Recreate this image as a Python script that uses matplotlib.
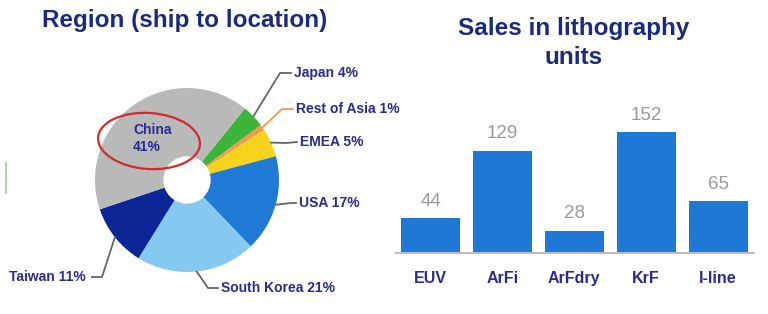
import numpy as np
import matplotlib.pyplot as plt
from matplotlib.patches import Ellipse

# pie data (ship to location)
regions = ['Japan', 'Rest of Asia', 'EMEA', 'USA', 'South Korea', 'Taiwan', 'China']
shares = [4, 1, 5, 17, 21, 11, 41]
pie_colors = ['#3db43a', '#f4994a', '#f8d31e', '#1f7ad6', '#85c9f0', '#0b2694', '#b9b9b9']

# bar data (litho units)
tools = ['EUV', 'ArFi', 'ArFdry', 'KrF', 'I-line']
units = [44, 129, 28, 152, 65]

W, H = 768, 314
navy = '#1b2a80'
lblcol = '#2a2a96'
plt.rcParams['font.family'] = ['Liberation Sans', 'DejaVu Sans']

fig = plt.figure(figsize=(W / 100, H / 100), dpi=100)
ax = fig.add_axes([0, 0, 1, 1])

def Y(y):
    return H - y

# pie / donut
cx, cy, r = 187, 180, 92
ax.pie(shares, colors=pie_colors, startangle=51, counterclock=False,
       radius=r, center=(cx, Y(cy)), wedgeprops=dict(linewidth=0),
       frame=True)
ax.add_patch(plt.Circle((cx, Y(cy)), 23, color='white', zorder=3))
ax.set_xlim(0, W)
ax.set_ylim(0, H)
ax.set_aspect('auto')
ax.axis('off')

ax.text(185, Y(20), 'Region (ship to location)', ha='center', va='center',
        fontsize=17.5, fontweight='bold', color=navy)

# leader lines + labels
labels = ['Japan 4%', 'Rest of Asia 1%', 'EMEA 5%', 'USA 17%',
          'South Korea 21%', 'Taiwan 11%']
knees = [(280, 73), (282, 109), (286, 143), (291, 203), (208, 288), (102, 277)]
ends = [(291, 73), (293, 109), (297, 142), (296, 203), (218, 288), (92, 277)]
lead_cols = ['#666666', '#f4994a', '#666666', '#666666', '#666666', '#666666']
ang0 = 51
for i, lab in enumerate(labels):
    mid = ang0 - shares[i] * 3.6 / 2
    ang0 -= shares[i] * 3.6
    sx = cx + r * np.cos(np.radians(mid))
    sy = cy - r * np.sin(np.radians(mid))
    kx, ky = knees[i]
    ex, ey = ends[i]
    ax.plot([sx, kx, ex], [Y(sy), Y(ky), Y(ey)], color=lead_cols[i], lw=1.3,
            zorder=4)
    if ex > kx or i == 3:
        ax.text(ex + 3, Y(ey), lab, ha='left', va='center', fontsize=10,
                fontweight='bold', color=lblcol)
    else:
        ax.text(ex - 6, Y(ey), lab, ha='right', va='center', fontsize=10,
                fontweight='bold', color=lblcol)

ax.text(133, Y(130), 'China', ha='left', va='center', fontsize=10,
        fontweight='bold', color=lblcol, zorder=5)
ax.text(133, Y(147), '41%', ha='left', va='center', fontsize=10,
        fontweight='bold', color=lblcol, zorder=5)
ax.add_patch(Ellipse((149, Y(141)), 102, 56, angle=-4, fill=False,
                     edgecolor='#d42a2a', lw=1.6, zorder=5))

# little green artefact at left edge
ax.plot([6, 6], [Y(163), Y(193)], color='#7fc07f', lw=1.2, alpha=0.8)

# bar chart
bx = fig.add_axes([396 / W, (H - 253) / H, 358 / W, 135 / H])
xs = np.arange(len(tools))
bx.bar(xs, units, width=0.82, color='#1e78d6', zorder=2)
bx.set_xlim(-0.48, 4.5)
bx.set_ylim(0, 170)
for s in ['top', 'right', 'left']:
    bx.spines[s].set_visible(False)
bx.spines['bottom'].set_color('#bdbdbd')
bx.spines['bottom'].set_linewidth(1.5)
bx.set_yticks([])
bx.set_xticks(xs)
bx.set_xticklabels(tools, fontsize=11.5, fontweight='bold', color=lblcol)
bx.tick_params(axis='x', length=0, pad=13)
for x, v in zip(xs, units):
    bx.annotate(str(v), (x, v), xytext=(0, 6), textcoords='offset points',
                ha='center', va='bottom', fontsize=13.5, color='#9a9a9a')

fig.text(574 / W, 1 - 28 / H, 'Sales in lithography', ha='center', va='center',
         fontsize=17.5, fontweight='bold', color=navy)
fig.text(574 / W, 1 - 58 / H, 'units', ha='center', va='center',
         fontsize=17.5, fontweight='bold', color=navy)

fig.savefig('out.png', dpi=100)
